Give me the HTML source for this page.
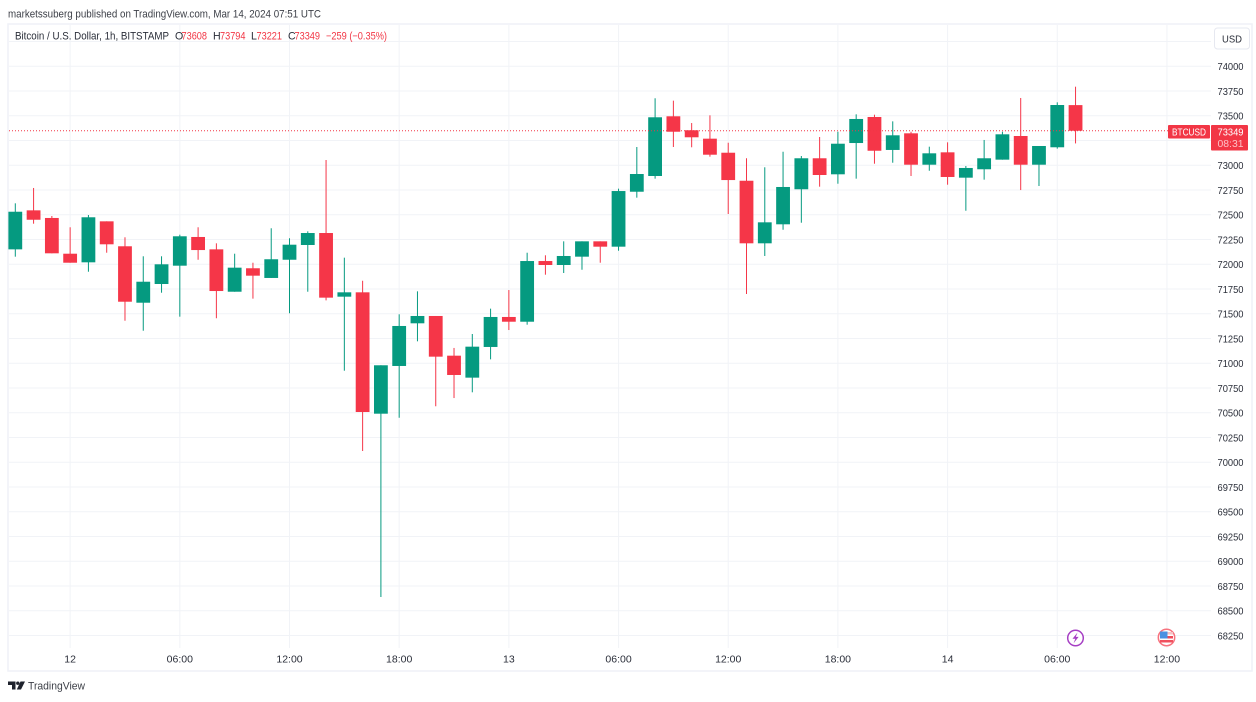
<!DOCTYPE html>
<html lang="en">
<head>
<meta charset="utf-8">
<title>BTCUSD 1h chart</title>
<style>
html,body{margin:0;padding:0;background:#fff;width:1256px;height:702px;overflow:hidden}
svg{display:block;font-family:"Liberation Sans",sans-serif}
</style>
</head>
<body>
<svg id="chart" xmlns="http://www.w3.org/2000/svg" width="1256" height="702" viewBox="0 0 1256 702">
  <rect x="0" y="0" width="1256" height="702" fill="#ffffff"/>
  <text x="8" y="17.5" font-size="10.8" fill="#3c3f47" textLength="313" lengthAdjust="spacingAndGlyphs">marketssuberg published on TradingView.com, Mar 14, 2024 07:51 UTC</text>
  <rect x="8" y="24" width="1244" height="647" fill="#ffffff" stroke="#eff1f7" stroke-width="1.5"/>
  <g id="grid"></g>
  <g id="candles"></g>
  <g id="priceLine"></g>
  <g id="yAxis"></g>
  <g id="xAxis"></g>

  <g font-size="10.6">
    <text x="15" y="39.5" fill="#2a2e39" textLength="154" lengthAdjust="spacingAndGlyphs">Bitcoin / U.S. Dollar, 1h, BITSTAMP</text>
    <text x="175" y="39.5" fill="#2a2e39">O</text>
    <text x="181.5" y="39.5" fill="#f23645" textLength="25.5" lengthAdjust="spacingAndGlyphs">73608</text>
    <text x="213" y="39.5" fill="#2a2e39">H</text>
    <text x="220" y="39.5" fill="#f23645" textLength="25.5" lengthAdjust="spacingAndGlyphs">73794</text>
    <text x="251" y="39.5" fill="#2a2e39">L</text>
    <text x="256.5" y="39.5" fill="#f23645" textLength="25.5" lengthAdjust="spacingAndGlyphs">73221</text>
    <text x="288" y="39.5" fill="#2a2e39">C</text>
    <text x="294.5" y="39.5" fill="#f23645" textLength="25.5" lengthAdjust="spacingAndGlyphs">73349</text>
    <text x="326" y="39.5" fill="#f23645" textLength="61" lengthAdjust="spacingAndGlyphs">−259 (−0.35%)</text>
  </g>

  <g>
    <rect x="1214.5" y="28" width="35" height="21" rx="3" fill="#ffffff" stroke="#e6e8f0" stroke-width="1"/>
    <text x="1222" y="42.5" font-size="10.5" fill="#2a2e39" textLength="20" lengthAdjust="spacingAndGlyphs">USD</text>
  </g>

  <g>
    <rect x="1168" y="125" width="42" height="13.5" rx="1" fill="#f23645"/>
    <text x="1172" y="135.5" font-size="10.5" fill="#ffffff" textLength="34" lengthAdjust="spacingAndGlyphs">BTCUSD</text>
    <rect x="1211" y="125" width="37" height="25.5" rx="1" fill="#f23645"/>
    <text x="1217.5" y="135.5" font-size="10.5" fill="#ffffff" textLength="26" lengthAdjust="spacingAndGlyphs">73349</text>
    <text x="1217.5" y="147" font-size="10.5" fill="#fdc1c6" textLength="26" lengthAdjust="spacingAndGlyphs">08:31</text>
  </g>

  <g>
    <circle cx="1075.5" cy="638" r="7.8" fill="#ffffff" stroke="#a63fc4" stroke-width="1.5"/>
    <polygon points="1077.5,632.5 1072.5,638.8 1075.3,638.8 1073.6,643.3 1078.6,636.9 1075.8,636.9" fill="#a63fc4"/>
  </g>
  <g>
    <circle cx="1166.5" cy="637.5" r="8.2" fill="#ffffff" stroke="#f7737f" stroke-width="1.5"/>
    <rect x="1160" y="632" width="13" height="2.5" fill="#f6c2c6"/>
    <rect x="1160" y="636" width="13" height="2.5" fill="#ef4a58"/>
    <rect x="1160" y="640" width="13" height="2.5" fill="#f0505e"/>
    <rect x="1160" y="631.5" width="7.5" height="7" fill="#4a90e2"/>
  </g>

  <g>
    <polygon points="8,681.5 15.5,681.5 15.5,689.5 12,689.5 12,685 8,685" fill="#1e222d"/>
    <circle cx="17.8" cy="683.2" r="1.7" fill="#1e222d"/>
    <polygon points="20.5,681.5 25,681.5 21,689.5 16.8,689.5" fill="#1e222d"/>
    <text x="28" y="689.5" font-size="10.8" fill="#3c3f47" textLength="57" lengthAdjust="spacingAndGlyphs">TradingView</text>
  </g>
</svg>

<script>
// Hourly slots begin Mar 11 21:00 UTC.
const categories = ['21:00','22:00','23:00','12','01:00','02:00','03:00','04:00','05:00','06:00','07:00','08:00','09:00','10:00','11:00','12:00','13:00','14:00','15:00','16:00','17:00','18:00','19:00','20:00','21:00','22:00','23:00','13','01:00','02:00','03:00','04:00','05:00','06:00','07:00','08:00','09:00','10:00','11:00','12:00','13:00','14:00','15:00','16:00','17:00','18:00','19:00','20:00','21:00','22:00','23:00','14','01:00','02:00','03:00','04:00','05:00','06:00','07:00'];
const opens  = [72151,72545,72468,72107,72020,72434,72182,71612,71801,71986,72276,72151,71723,71960,71862,72046,72195,72316,71673,71717,70491,70973,71404,71478,71077,70855,71165,71468,71420,72033,71993,72077,72232,72178,72733,72892,73495,73354,73269,73127,72844,72212,72404,72758,73071,72909,73225,73488,73155,73323,73006,73131,72875,72960,73057,73296,73006,73182,73608];
const highs  = [72616,72771,72488,72374,72498,72434,72273,72081,72081,72299,72374,72212,72107,72016,72364,72263,72333,73054,72067,71834,70980,71495,71727,71478,71155,71296,71552,71740,72117,72091,72232,72232,72232,72764,73185,73677,73653,73427,73505,73228,73071,72980,73137,73094,73286,73339,73515,73511,73444,73339,73188,73232,72993,73256,73339,73680,73195,73636,73794];
const lows   = [72077,72410,72111,72016,71925,72117,71430,71329,71713,71471,72046,71455,71723,71653,71862,71505,71723,71636,70925,70114,68639,70450,71222,70566,70649,70707,71040,71336,71390,71895,71912,71945,72016,72137,72673,72865,73185,73182,73087,72508,71700,72084,72349,72420,72784,72814,72865,73016,73026,72892,72945,72804,72541,72855,73057,72750,72791,73168,73221];
const closes = [72531,72450,72111,72016,72475,72202,71622,71824,72000,72283,72144,71730,71966,71885,72051,72198,72316,71663,71717,70508,70980,71377,71478,71067,70882,71168,71468,71420,72033,71993,72084,72232,72178,72740,72912,73485,73339,73283,73107,72851,72212,72424,72781,73071,72902,73218,73468,73147,73303,73006,73121,72882,72973,73071,73313,73006,73195,73609,73349];
const yTicks = [74250,74000,73750,73500,73250,73000,72750,72500,72250,72000,71750,71500,71250,71000,70750,70500,70250,70000,69750,69500,69250,69000,68750,68500,68250];
const xTickLabels = ['12','06:00','12:00','18:00','13','06:00','12:00','18:00','14','06:00','12:00'];
const xTickSlots = [3,9,15,21,27,33,39,45,51,57,63];
const lastClose = 73349;

const NS = 'http://www.w3.org/2000/svg';
const UP = '#059a80';
const DOWN = '#f53648';
function yScale(p) { return 66.3 + (74000 - p) * 0.099; }
function xScale(i) { return 15.3 + i * 18.28; }
function make(tag, parent, attrs) {
  const el = document.createElementNS(NS, tag);
  for (const k in attrs) el.setAttribute(k, attrs[k]);
  parent.appendChild(el);
  return el;
}

const grid = document.getElementById('grid');
const yAxis = document.getElementById('yAxis');
const xAxis = document.getElementById('xAxis');
const candles = document.getElementById('candles');
const priceLine = document.getElementById('priceLine');

yTicks.forEach(function (p) {
  const y = yScale(p);
  const line = make('line', grid, {x1: 9, x2: 1211, y1: y, y2: y, stroke: '#f1f3f7', 'stroke-width': 1});
  
  
  if (p <= 74000) {
    const t = make('text', yAxis, {x: 1217.5, y: y + 3.8, 'font-size': 10.5, fill: '#2a2e39', textLength: 26, lengthAdjust: 'spacingAndGlyphs'});
    
    
    t.textContent = String(p);
  }
});

xTickSlots.forEach(function (slot, k) {
  const x = xScale(slot);
  const line = make('line', grid, {x1: x, x2: x, y1: 25, y2: 648, stroke: '#f1f3f7', 'stroke-width': 1});
  
  
  const t = make('text', xAxis, {x: x, y: 662.5, 'font-size': 10.5, fill: '#2a2e39', 'text-anchor': 'middle'});
  
  
  t.textContent = xTickLabels[k];
});

categories.forEach(function (label, i) {
  const isUp = closes[i] >= opens[i];
  const color = isUp ? UP : DOWN;
  const x = xScale(i);
  const top = yScale(Math.max(opens[i], closes[i]));
  const bottom = yScale(Math.min(opens[i], closes[i]));
  const g = make('g', candles, {});
  
  
  const wick = make('line', g, {x1: x, x2: x, y1: yScale(highs[i]), y2: yScale(lows[i]), stroke: color, 'stroke-width': 1});
  
  
  const body = make('rect', g, {x: x - 6.9, y: top, width: 13.8, height: Math.max(bottom - top, 1), fill: color});
  
  
});

const dotted = make('line', priceLine, {x1: 9, x2: 1168, y1: yScale(lastClose), y2: yScale(lastClose), stroke: '#f23645', 'stroke-width': 1, 'stroke-dasharray': '1 2'});


</script>
</body>
</html>
